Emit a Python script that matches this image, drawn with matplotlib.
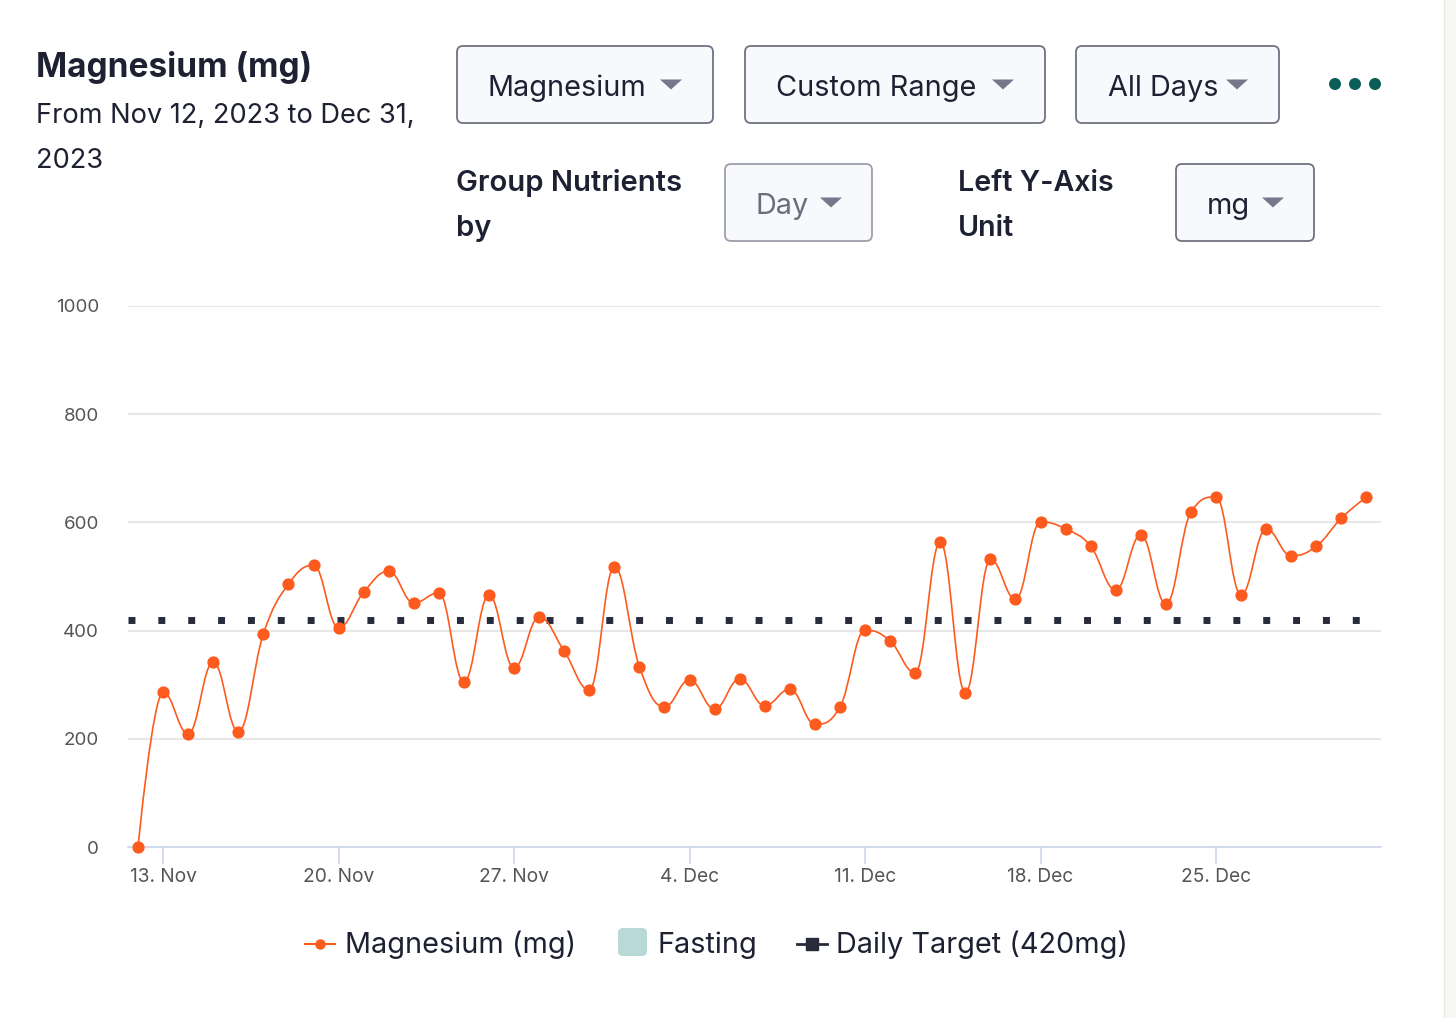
import numpy as np
import pandas as pd
import matplotlib
matplotlib.use("Agg")
import matplotlib.pyplot as plt
import matplotlib.dates as mdates
from matplotlib.path import Path
from matplotlib.patches import PathPatch, FancyBboxPatch, Polygon, Circle, Rectangle
from matplotlib.ticker import FuncFormatter

plt.rcParams['font.family'] = ['Inter', 'DejaVu Sans']

# Data
start_date = "2023-11-12"
magnesium_mg = [0, 286, 209, 342, 213, 394, 486, 521, 405, 471,
                510, 451, 470, 305, 466, 331, 425, 362, 290, 518,
                333, 259, 309, 255, 311, 261, 292, 227, 259, 401,
                381, 322, 564, 285, 532, 458, 601, 588, 556, 475,
                577, 449, 619, 647, 466, 588, 538, 556, 608, 647]
daily_target = 420
y_ticks = [0, 200, 400, 600, 800, 1000]
dropdowns_top = ["Magnesium", "Custom Range", "All Days"]
legend_labels = ["Magnesium (mg)", "Fasting", "Daily Target (420mg)"]

dates = pd.date_range(start_date, periods=len(magnesium_mg), freq="D")

ORANGE = "#fd5a1e"
NAVY = "#272b3b"
TEXT = "#1e2132"


# Highcharts-like spline through the points
def spline_path(xs, ys, smoothing=1.5):
    denom = smoothing + 1
    verts = [(xs[0], ys[0])]
    codes = [Path.MOVETO]
    right_prev = (xs[0], ys[0])
    n = len(xs)
    for i in range(1, n):
        x, y = xs[i], ys[i]
        if i < n - 1:
            lx, ly = xs[i - 1], ys[i - 1]
            nx, ny = xs[i + 1], ys[i + 1]
            lcx = (smoothing * x + lx) / denom
            lcy = (smoothing * y + ly) / denom
            rcx = (smoothing * x + nx) / denom
            rcy = (smoothing * y + ny) / denom
            if rcx != lcx:
                corr = (rcy - lcy) * (rcx - x) / (rcx - lcx) + y - rcy
                lcy += corr
                rcy += corr
            if lcy > max(ly, y):
                lcy = max(ly, y)
                rcy = 2 * y - lcy
            elif lcy < min(ly, y):
                lcy = min(ly, y)
                rcy = 2 * y - lcy
            if rcy > max(y, ny):
                rcy = max(y, ny)
                lcy = 2 * y - rcy
            elif rcy < min(y, ny):
                rcy = min(y, ny)
                lcy = 2 * y - rcy
        else:
            lcx, lcy = x, y
            rcx, rcy = x, y
        verts += [right_prev, (lcx, lcy), (x, y)]
        codes += [Path.CURVE4] * 3
        right_prev = (rcx, rcy)
    return Path(verts, codes)


fig = plt.figure(figsize=(14.56, 10.18), dpi=100)
W, H = 1456, 1018

# Chart axes
ax = fig.add_axes([128 / W, 1 - 847 / H, (1381 - 128) / W, (847 - 306) / H])
ax.set_facecolor("none")
xnum = mdates.date2num(dates)
ax.set_xlim(xnum[0] - 0.4, xnum[0] + 49.58)
ax.set_ylim(0, 1000)

ax.add_patch(PathPatch(spline_path(xnum, magnesium_mg), fill=False,
                       ec=ORANGE, lw=1.2, clip_on=False, zorder=3))
ax.plot(xnum, magnesium_mg, "o", color=ORANGE, ms=7.8, mec=ORANGE,
        clip_on=False, zorder=4)
ax.axhline(daily_target, color=NAVY, lw=5.0, linestyle=(0, (1, 3.3)),
           dash_capstyle="butt", zorder=2)

ax.set_yticks(y_ticks)
ax.grid(axis="y", color="#e3e3e3", lw=1.2)
ax.set_axisbelow(True)
for s in ["top", "right", "left"]:
    ax.spines[s].set_visible(False)
ax.spines["bottom"].set_color("#ccd6eb")
ax.spines["bottom"].set_linewidth(1.2)
ax.tick_params(axis="y", length=0, pad=21, labelsize=13.5, labelcolor="#555555")
ax.xaxis.set_major_locator(mdates.WeekdayLocator(byweekday=mdates.MO))
ax.xaxis.set_major_formatter(FuncFormatter(
    lambda v, p: f"{mdates.num2date(v).day}. {mdates.num2date(v):%b}"))
ax.tick_params(axis="x", length=12, width=1.2, color="#ccd6eb", pad=3,
               labelsize=13.8, labelcolor="#555555")

# Overlay for the UI parts (pixel coordinates)
ui = fig.add_axes([0, 0, 1, 1], zorder=-1)
ui.set_xlim(0, W)
ui.set_ylim(H, 0)
ui.axis("off")

# right-hand strip
ui.add_patch(Rectangle((1444, 0), 12, H, fc="#f9f7f4", ec="none"))
ui.plot([1444, 1444], [0, H], color="#eceae8", lw=1)

ui.text(36, 77, "Magnesium (mg)", fontsize=24, fontweight="bold", color=TEXT, va="baseline")
ui.text(36, 123, "From Nov 12, 2023 to Dec 31,", fontsize=19.6, color=TEXT, va="baseline")
ui.text(36, 168, "2023", fontsize=19.6, color=TEXT, va="baseline")


def dropdown(x0, x1, y0, y1, label, tx, ax0, border="#6f7280", tcolor=TEXT):
    ui.add_patch(FancyBboxPatch((x0, y0), x1 - x0, y1 - y0,
                                boxstyle="round,pad=0,rounding_size=6",
                                fc="#f8f9fd", ec=border, lw=1.3))
    base = (y0 + y1) / 2 + 11
    ui.text(tx, base, label, fontsize=20.8, color=tcolor, va="baseline")
    cy = (y0 + y1) / 2
    ui.add_patch(Polygon([(ax0, cy - 5), (ax0 + 22, cy - 5), (ax0 + 11, cy + 5)],
                         closed=True, fc="#75788a", ec="none"))


dropdown(457, 713, 46, 123, dropdowns_top[0], 488, 660)
dropdown(745, 1045, 46, 123, dropdowns_top[1], 776, 992)
dropdown(1076, 1279, 46, 123, dropdowns_top[2], 1108, 1226)
dropdown(725, 872, 164, 241, "Day", 756, 820, border="#9c9eab", tcolor="#6b6e7a")
dropdown(1176, 1314, 164, 241, "mg", 1207, 1262)

ui.text(456, 191, "Group Nutrients", fontsize=21, fontweight="semibold", color=TEXT, va="baseline")
ui.text(456, 236, "by", fontsize=21, fontweight="semibold", color=TEXT, va="baseline")
ui.text(958, 191, "Left Y-Axis", fontsize=20.6, fontweight="semibold", color=TEXT, va="baseline")
ui.text(958, 236, "Unit", fontsize=20.6, fontweight="semibold", color=TEXT, va="baseline")

for cx in [1335, 1355, 1375]:
    ui.add_patch(Circle((cx, 84), 6, fc="#0b5e57", ec="none"))

# Legend
ly = 944
ui.plot([305, 335], [ly, ly], color=ORANGE, lw=1.5)
ui.plot([320], [ly], "o", color=ORANGE, ms=6.5)
ui.text(345, ly + 9, legend_labels[0], fontsize=20.8, color=TEXT, va="baseline")
ui.add_patch(FancyBboxPatch((618, 928), 29, 28, boxstyle="round,pad=0,rounding_size=5",
                            fc="#b9d9d8", ec="none"))
ui.text(657, ly + 9, legend_labels[1], fontsize=20.8, color=TEXT, va="baseline")
ui.plot([797, 827], [ly, ly], color=NAVY, lw=2)
ui.plot([812], [ly], "s", color=NAVY, ms=8)
ui.text(836, ly + 9, legend_labels[2], fontsize=20.8, color=TEXT, va="baseline")

fig.savefig("out.png", dpi=100, facecolor="white")
